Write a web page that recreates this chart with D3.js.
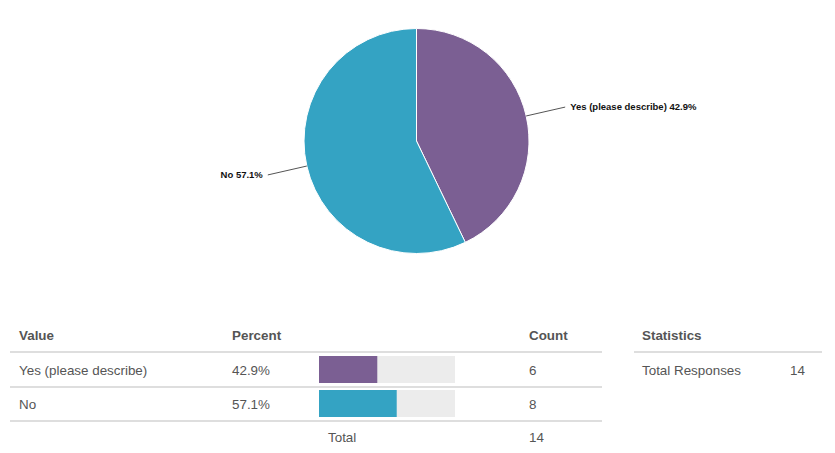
<!DOCTYPE html>
<html>
<head>
<meta charset="utf-8">
<script src="https://cdn.jsdelivr.net/npm/d3@7"></script>
<style>
  html, body { margin: 0; padding: 0; background: #fff; }
  svg { display: block; font-family: "Liberation Sans", Arial, Helvetica, sans-serif; }
</style>
</head>
<body>
<svg id="chart" width="835" height="453"></svg>
<script>
const categories = ["Yes (please describe)", "No"];
const counts = [6, 8];
const sliceColors = ["#7b5f93", "#34a3c3"];
const headers = ["Value", "Percent", "Count"];
const statsLabels = ["Total Responses"];
const statsValues = [14];
const totalLabel = "Total";

const svg = d3.select("#chart");
const total = d3.sum(counts);
const fmtPct = d3.format(".1%");
const data = categories.map((c, i) => ({ name: c, count: counts[i], pct: counts[i] / total, color: sliceColors[i] }));

// ---- Pie ----
const cx = 416.5, cy = 141, r = 112.5;
const pie = d3.pie().sort(null).value(d => d.count);
const arc = d3.arc().innerRadius(0).outerRadius(r);
const gPie = svg.append("g").attr("transform", `translate(${cx},${cy})`);
const arcs = pie(data);
gPie.selectAll("path").data(arcs).join("path")
  .attr("d", arc)
  .attr("fill", d => d.data.color)
  .attr("stroke", "#fff")
  .attr("stroke-width", 1);

arcs.forEach(a => {
  const mid = (a.startAngle + a.endAngle) / 2;
  const sx = Math.sin(mid), sy = -Math.cos(mid);
  const r1 = r, r2 = r + 40;
  gPie.append("line")
    .attr("x1", sx * r1).attr("y1", sy * r1)
    .attr("x2", sx * r2).attr("y2", sy * r2)
    .attr("stroke", "#555").attr("stroke-width", 1);
  const right = sx > 0;
  gPie.append("text")
    .attr("x", sx * r2 + (right ? 5 : -5))
    .attr("y", sy * r2 + 3)
    .attr("text-anchor", right ? "start" : "end")
    .attr("font-size", "9.5px")
    .attr("font-weight", "bold")
    .attr("fill", "#111")
    .text(`${a.data.name} ${fmtPct(a.data.pct)}`);
});

// ---- Table ----
const textColor = "#555";
const lineColor = "#dedede";
const colX = { value: 19, percent: 232, bar: 319, count: 529 };
const headerY = 335;
const rowY = [370, 404];
const lineYs = [352, 387, 421];
const barTop = [356, 390];
const barH = 27;
const barW = d3.scaleLinear().domain([0, 1]).range([0, 136]);

const gT = svg.append("g").attr("font-size", "13.4px").attr("fill", textColor);

gT.selectAll("text.hdr").data(headers).join("text")
  .attr("class", "hdr")
  .attr("x", (d, i) => [colX.value, colX.percent, colX.count][i])
  .attr("y", headerY)
  .attr("dy", "0.35em")
  .attr("font-weight", "bold")
  .attr("fill", textColor)
  .text(d => d);

lineYs.forEach(y => {
  gT.append("line").attr("x1", 10).attr("x2", 602).attr("y1", y).attr("y2", y)
    .attr("stroke", lineColor).attr("stroke-width", 2);
});

data.forEach((d, i) => {
  gT.append("text").attr("x", colX.value).attr("y", rowY[i]).attr("dy", "0.35em").attr("fill", textColor).text(d.name);
  gT.append("text").attr("x", colX.percent).attr("y", rowY[i]).attr("dy", "0.35em").attr("fill", textColor).text(fmtPct(d.pct));
  gT.append("rect").attr("x", colX.bar).attr("y", barTop[i]).attr("width", barW(1)).attr("height", barH).attr("fill", "#ececec");
  gT.append("rect").attr("x", colX.bar).attr("y", barTop[i]).attr("width", barW(d.pct)).attr("height", barH).attr("fill", d.color);
  gT.append("text").attr("x", colX.count).attr("y", rowY[i]).attr("dy", "0.35em").attr("fill", textColor).text(d.count);
});

gT.append("text").attr("x", 328).attr("y", 437).attr("dy", "0.35em").attr("fill", textColor).text(totalLabel);
gT.append("text").attr("x", colX.count).attr("y", 437).attr("dy", "0.35em").attr("fill", textColor).text(total);

// ---- Statistics ----
gT.append("text").attr("x", 642).attr("y", headerY).attr("dy", "0.35em").attr("font-weight", "bold").attr("fill", textColor).text("Statistics");
gT.append("line").attr("x1", 634).attr("x2", 822).attr("y1", 352).attr("y2", 352).attr("stroke", lineColor).attr("stroke-width", 2);
statsLabels.forEach((s, i) => {
  gT.append("text").attr("x", 642).attr("y", rowY[i]).attr("dy", "0.35em").attr("fill", textColor).text(s);
  gT.append("text").attr("x", 790).attr("y", rowY[i]).attr("dy", "0.35em").attr("fill", textColor).text(statsValues[i]);
});
</script>
</body>
</html>
